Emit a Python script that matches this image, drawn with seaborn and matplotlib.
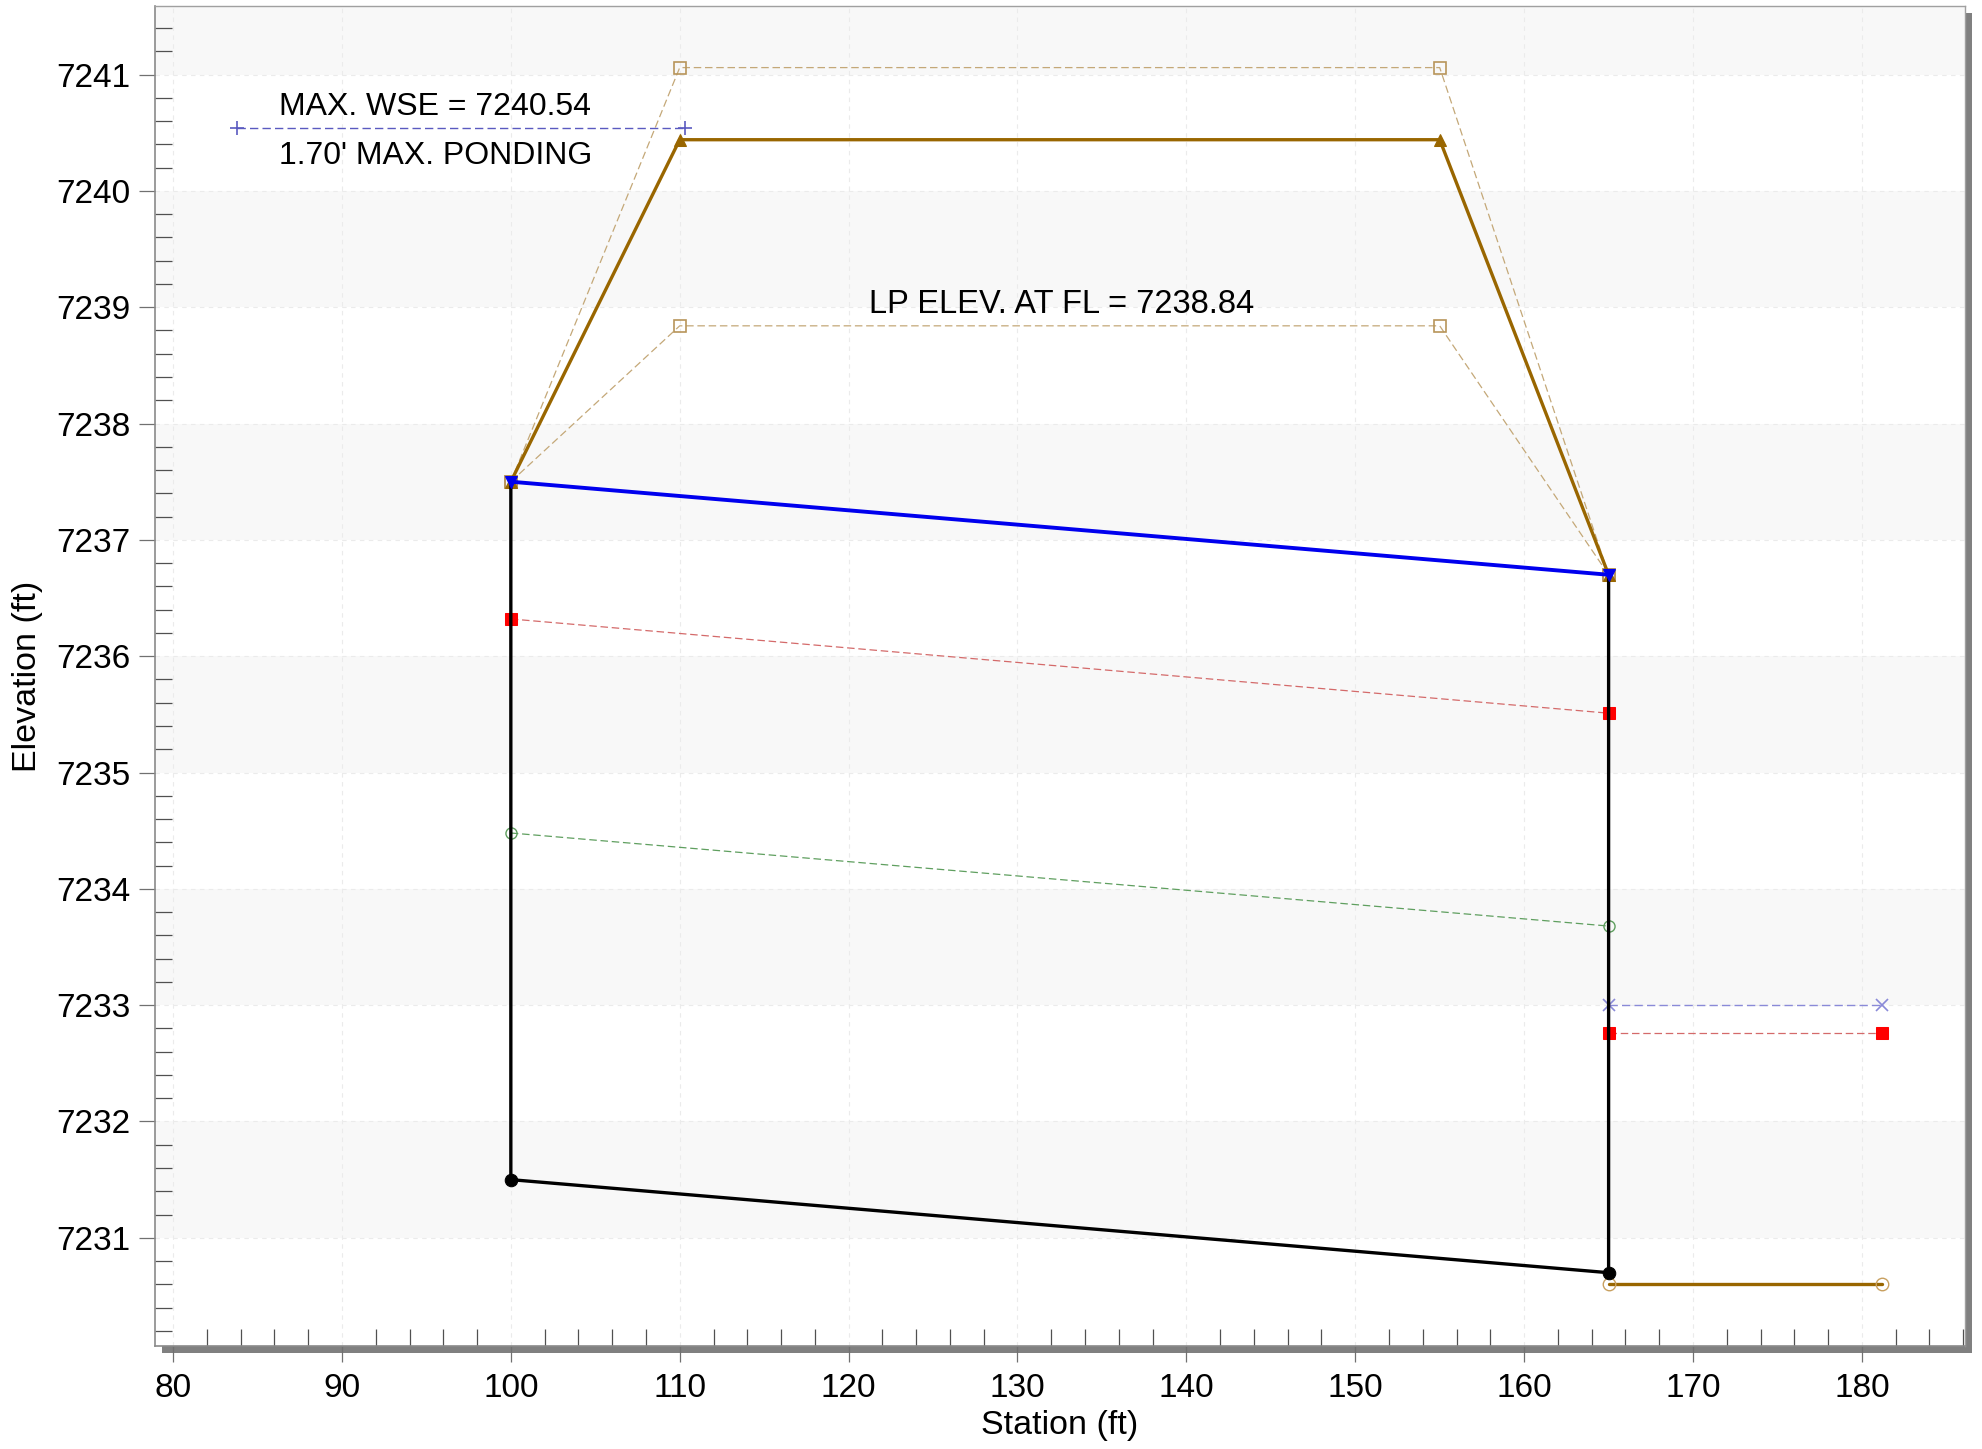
import matplotlib
matplotlib.use("Agg")
import matplotlib.pyplot as plt
from matplotlib.patches import Rectangle
from matplotlib.ticker import MultipleLocator
import seaborn as sns

# culvert profile data (station ft, elevation ft)
pipe_sta = [100, 100, 165, 165]
pipe_elev = [7237.5, 7231.5, 7230.7, 7236.7]
crown_sta = [100, 165]
crown_elev = [7237.5, 7236.7]
hgl_elev = [7236.32, 7235.51]
egl_elev = [7234.48, 7233.68]

out_sta = [165, 181.2]
tw_elev = [7233.0, 7233.0]
tw_hgl_elev = [7232.76, 7232.76]
channel_elev = [7230.6, 7230.6]

road_sta = [100, 110, 155, 165]
road_elev = [7237.5, 7240.44, 7240.44, 7236.7]
road_hi_elev = [7237.5, 7241.06, 7241.06, 7236.7]
road_lo_elev = [7237.5, 7238.84, 7238.84, 7236.7]

wse_sta = [83.8, 110.3]
wse_elev = [7240.54, 7240.54]

x_ticks = [80, 90, 100, 110, 120, 130, 140, 150, 160, 170, 180]
y_ticks = [7231, 7232, 7233, 7234, 7235, 7236, 7237, 7238, 7239, 7240, 7241]

sns.set_style("white")
plt.rcParams['font.family'] = ['Liberation Sans', 'DejaVu Sans']
plt.rcParams['text.color'] = 'black'
plt.rcParams['axes.labelcolor'] = 'black'

fig = plt.figure(figsize=(19.82, 14.49), dpi=100)
ax = fig.add_axes([0.0782, 0.0711, 0.9132, 0.9248])

# drop shadow behind the plot frame
pos = ax.get_position()
fig.patches.append(Rectangle((pos.x0 + 7 / 1982, pos.y0 - 7 / 1449),
                             pos.width, pos.height,
                             transform=fig.transFigure, facecolor='#808080',
                             edgecolor='none', zorder=-1))
ax.set_facecolor('white')

# alternating bands
for y0 in range(7231, 7242, 2):
    ax.axhspan(y0, y0 + 1, color='#f8f8f8', zorder=0.2, lw=0)

dash = (0, (6, 3))


def draw(x, y, **kws):
    sns.lineplot(x=x, y=y, sort=False, estimator=None, ax=ax, **kws)


# dashed reference lines
draw(road_sta, road_hi_elev, color='#c4a878', linewidth=0.9, linestyle=dash,
     marker='s', markersize=8, mfc='none', mec='#b8955a', mew=1.2, zorder=3)
draw(road_sta, road_lo_elev, color='#c4a878', linewidth=0.9, linestyle=dash,
     marker='s', markersize=8, mfc='none', mec='#b8955a', mew=1.2, zorder=3)
draw(crown_sta, hgl_elev, color='#d46a6a', linewidth=0.9, linestyle=dash,
     marker='s', markersize=8, mfc='#ff0000', mec='#ff0000', zorder=4)
draw(crown_sta, egl_elev, color='#5f9f5f', linewidth=0.9, linestyle=dash,
     marker='o', markersize=8, mfc='none', mec='#5f9f5f', mew=1.0, zorder=4)
draw(out_sta, tw_elev, color='#8a8ad8', linewidth=1.0, linestyle=dash,
     marker='x', markersize=9, mec='#8a8ad8', mew=1.2, zorder=4)
draw(out_sta, tw_hgl_elev, color='#d46a6a', linewidth=0.9, linestyle=dash,
     marker='s', markersize=8, mfc='#ff0000', mec='#ff0000', zorder=4)
draw(wse_sta, wse_elev, color='#5a5ac0', linewidth=1.0, linestyle=dash,
     marker='+', markersize=10, mec='#5a5ac0', mew=1.2, zorder=4)

# solid lines
draw(out_sta, channel_elev, color='#996600', linewidth=2.4,
     marker='o', markersize=9, mfc='none', mec='#c8a060', mew=1.0, zorder=5)
draw(road_sta, road_elev, color='#996600', linewidth=2.4,
     marker='^', markersize=9, mfc='#996600', mec='#996600', zorder=5)
draw(pipe_sta, pipe_elev, color='black', linewidth=2.4,
     marker='o', markersize=9, mfc='black', mec='black', markevery=[1, 2],
     zorder=6)
draw(crown_sta, crown_elev, color='#0000ee', linewidth=2.8,
     marker='v', markersize=9, mfc='#0000ee', mec='#0000ee', zorder=7)

# annotations
ax.text(86.3, 7240.65, "MAX. WSE = 7240.54", fontsize=23, va='baseline',
        ha='left', zorder=8)
ax.text(86.3, 7240.23, "1.70' MAX. PONDING", fontsize=23, va='baseline',
        ha='left', zorder=8)
ax.text(121.2, 7238.95, "LP ELEV. AT FL = 7238.84", fontsize=23.5,
        va='baseline', ha='left', zorder=8)

ax.set_xlim(78.93, 186.1)
ax.set_ylim(7230.07, 7241.59)
ax.set_xticks(x_ticks)
ax.set_yticks(y_ticks)
ax.xaxis.set_minor_locator(MultipleLocator(2))
ax.yaxis.set_minor_locator(MultipleLocator(0.2))
ax.tick_params(which='major', direction='out', length=11.5, width=0.9,
               color='#707070', labelcolor='black', labelsize=24,
               bottom=True, left=True)
ax.tick_params(axis='x', which='major', pad=8)
ax.tick_params(axis='y', which='major', pad=6)
ax.tick_params(which='minor', direction='in', length=12.5, width=0.9,
               color='#505050', bottom=True, left=True)

ax.set_axisbelow(True)
ax.grid(True, which='major', color='#ebebeb', linestyle=(0, (4, 4)),
        linewidth=0.8)

for side in ['left', 'bottom']:
    ax.spines[side].set_color('#8a8a8a')
    ax.spines[side].set_linewidth(1.2)
for side in ['top', 'right']:
    ax.spines[side].set_color('#a0a0a0')
    ax.spines[side].set_linewidth(1.0)

ax.set_xlabel('Station (ft)', fontsize=24.5, labelpad=4)
ax.set_ylabel('Elevation (ft)', fontsize=24.5, labelpad=10)

fig.savefig('out.png', dpi=100)
